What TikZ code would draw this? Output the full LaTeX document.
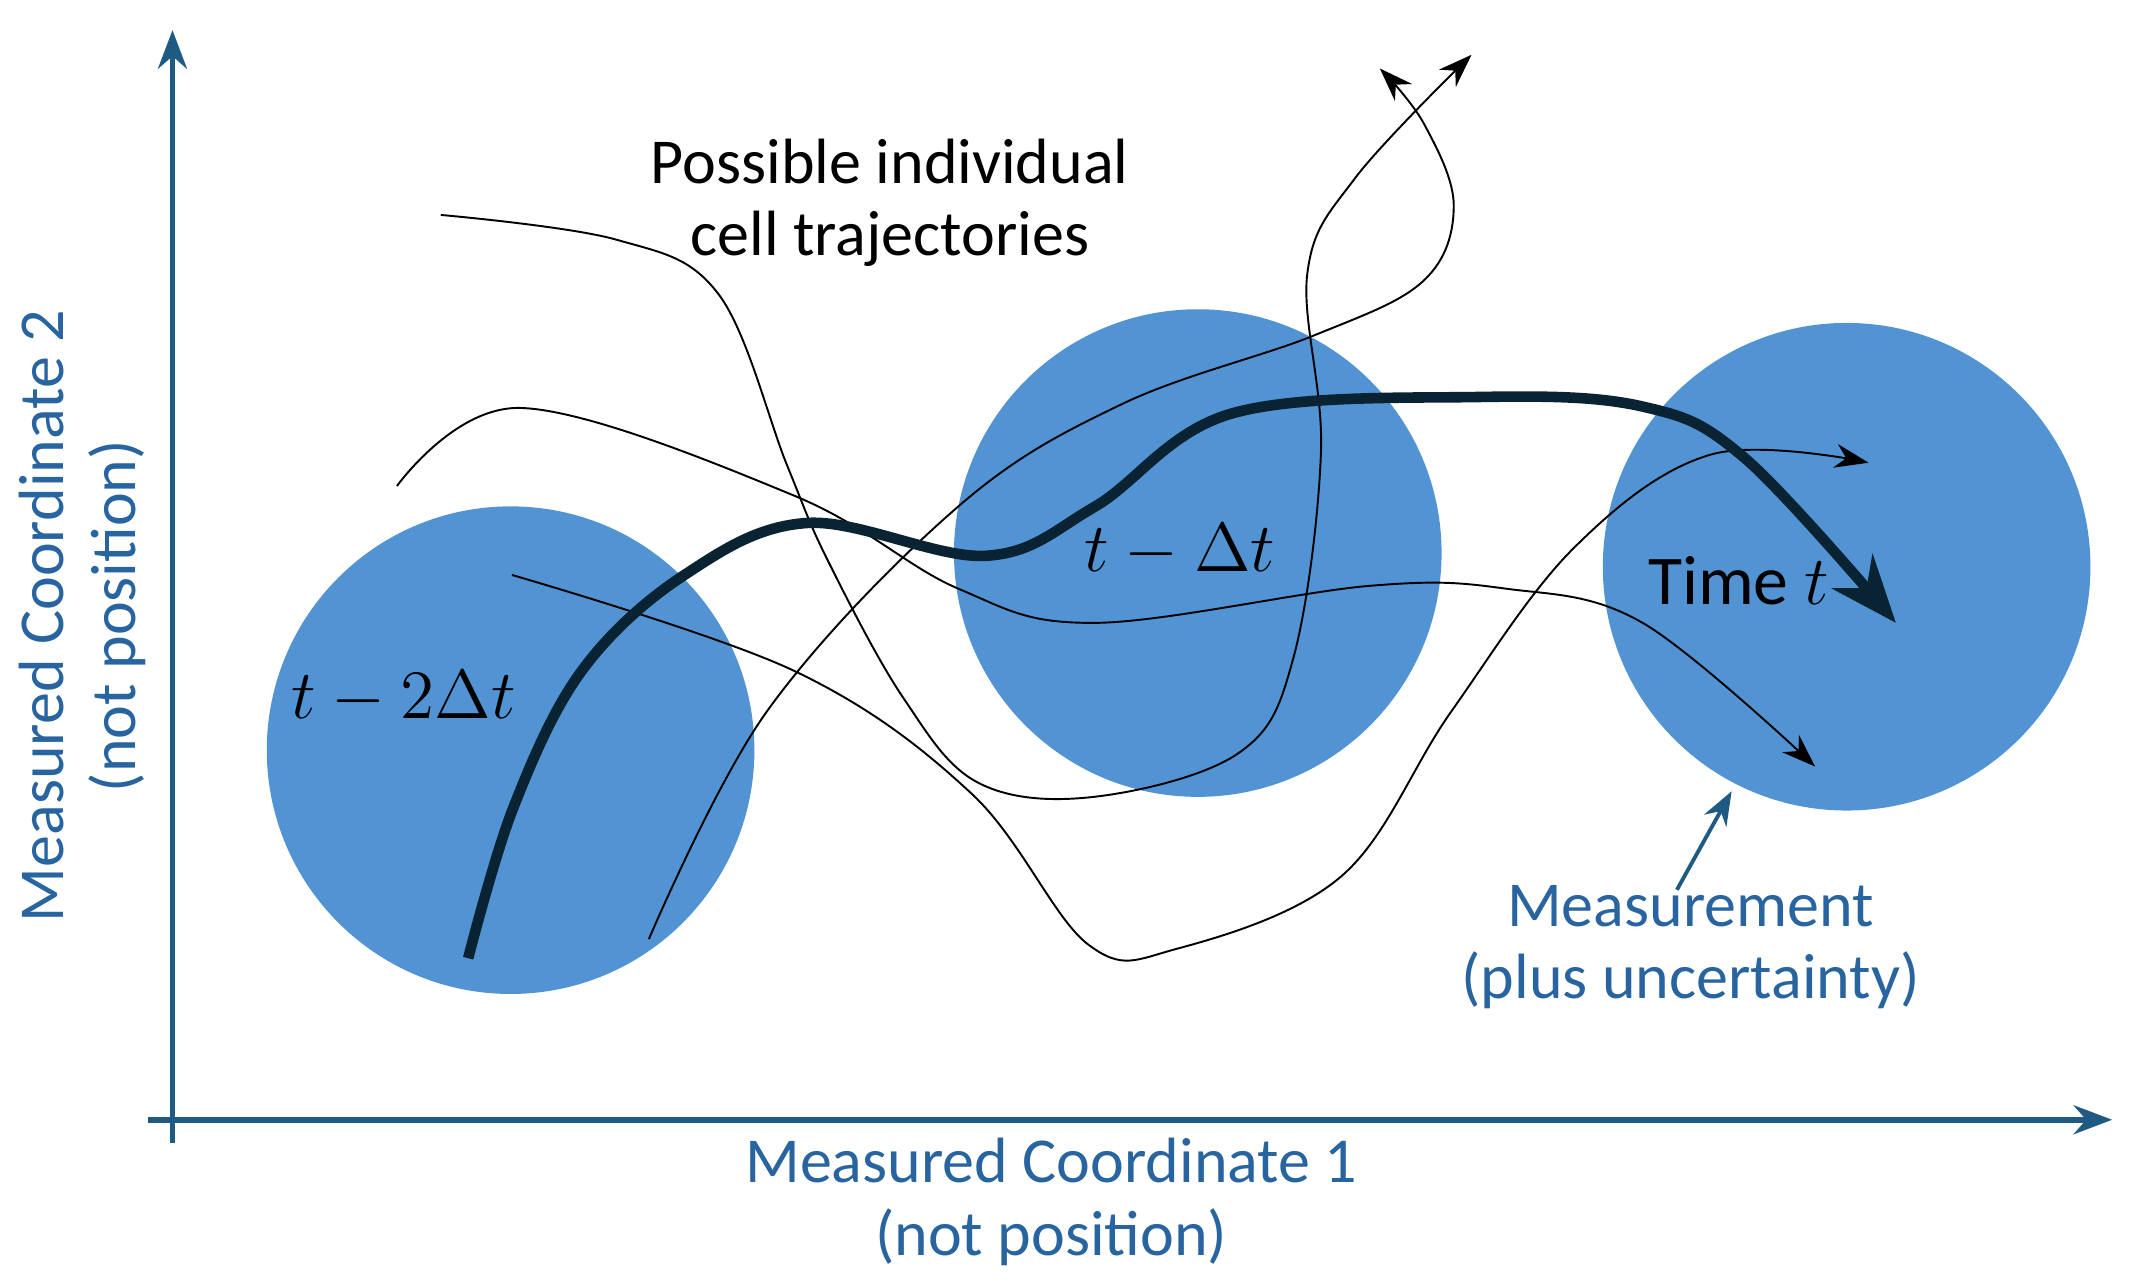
\documentclass[tikz,border=0pt]{standalone}
\usepackage{fontspec}
\setmainfont{Carlito}
\usetikzlibrary{arrows.meta}
\definecolor{circ}{RGB}{82,148,211}
\definecolor{axis}{RGB}{31,90,130}
\definecolor{lab}{RGB}{40,100,160}
\definecolor{dark}{RGB}{10,35,50}
\begin{document}
\begin{tikzpicture}[x=0.01cm,y=-0.01cm,
  meas/.style={circle,fill=circ,minimum size=3.56cm,inner sep=0},
  traj/.style={thin,black,-{Stealth[length=7pt,width=5pt]}},
  lbl/.style={font=\fontsize{13.3}{15}\selectfont,align=center}]
\useasboundingbox (0,0) rectangle (1556,929);
\node[meas] (c1) at (373,548) {};
\node[meas] (c2) at (875,404) {};
\node[meas] (c3) at (1349,414) {};
% axes
\coordinate (yt) at (126,22);
\coordinate (xt) at (1543,818);
\draw[axis,line width=1.2pt,-{Stealth[length=8pt]}] (126,835) -- (yt);
\draw[axis,line width=1.2pt,-{Stealth[length=8pt]}] (108,818) -- (xt);
\node[lbl,text=lab] (xl) at (768,878) {Measured Coordinate 1\\(not position)};
\node[lbl,text=lab,rotate=90] (yl) at (60,450) {Measured Coordinate 2\\(not position)};
% trajectories
\draw[traj] plot[smooth,tension=0.6] coordinates {(322,157) (450,175) (525,215) (575,340) (605,410) (660,510) (715,572) (800,582) (905,550) (945,480) (965,330) (955,200) (990,130) (1075,40)};
\draw[traj] plot[smooth,tension=0.6] coordinates {(474,686) (560,520) (700,370) (820,295) (960,245) (1040,205) (1062,150) (1040,90) (1008,50)};
\draw[traj] plot[smooth,tension=0.6] coordinates {(290,355) (380,298) (580,362) (700,430) (800,455) (1000,428) (1100,430) (1200,455) (1326,560)};
\draw[traj] plot[smooth,tension=0.6] coordinates {(374,420) (580,490) (710,580) (795,690) (860,693) (980,640) (1060,520) (1150,400) (1250,332) (1365,338)};
\draw[dark,line width=2.2pt,-{Stealth[length=14pt,width=11pt]}] plot[smooth,tension=0.6] coordinates {(342,700) (375,590) (425,490) (500,420) (590,382) (720,406) (800,370) (900,302) (1080,290) (1200,297) (1275,335) (1385,455)};
% labels
\node[lbl] (pt) at (650,148) {Possible individual\\cell trajectories};
\node[font=\fontsize{14.5}{17}\selectfont] (l1) at (295,510) {$t-2\Delta t$};
\node[font=\fontsize{14.5}{17}\selectfont] (l2) at (862,402) {$t-\Delta t$};
\node[font=\fontsize{14.5}{17}\selectfont] (l3) at (1270,424) {Time $t$};
\node[lbl,text=lab] (ml) at (1235,692) {Measurement\\(plus uncertainty)};
\coordinate (mt) at (1265,578);
\draw[axis,thick,-{Stealth[length=7pt]}] (1225,650) -- (mt);
\end{tikzpicture}
\end{document}
